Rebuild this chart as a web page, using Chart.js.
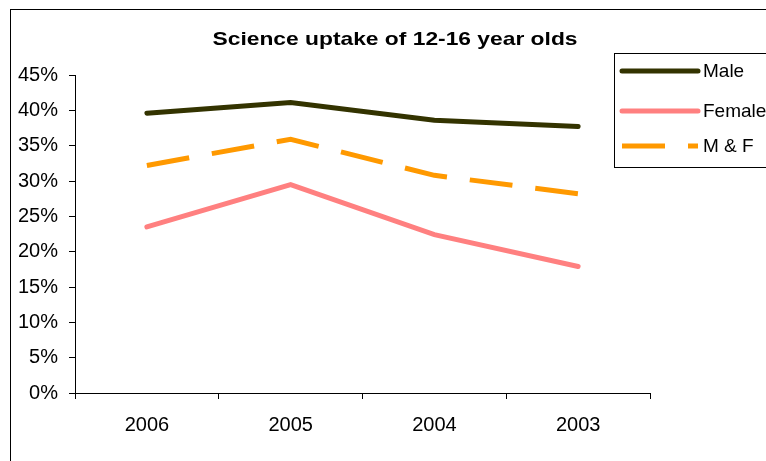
<!DOCTYPE html>
<html>
<head>
<meta charset="utf-8">
<script src="https://cdn.jsdelivr.net/npm/chart.js@4/dist/chart.umd.min.js"></script>
<style>
  html, body { margin: 0; padding: 0; background: #fff; }
  #wrap { width: 766px; height: 461px; position: relative; }
</style>
</head>
<body>
<div id="wrap"><canvas id="line-chart" width="766" height="461"></canvas></div>
<script>
const years = ["2006", "2005", "2004", "2003"];
const male = [39.6, 41.1, 38.6, 37.7];
const female = [23.5, 29.5, 22.4, 17.9];
const maleFemale = [32.2, 35.9, 30.8, 28.2];
const yTicks = [0, 5, 10, 15, 20, 25, 30, 35, 40, 45];

const FONT = "'Liberation Sans', Arial, sans-serif";

// outer frame, title and the boxed legend drawn on the canvas
const framePlugin = {
  id: "frame",
  afterDraw(chart) {
    const ctx = chart.ctx;
    ctx.save();
    ctx.strokeStyle = "#000";
    ctx.lineWidth = 1;
    ctx.strokeRect(10.5, 9.5, 800, 500);

    // title, a little wider than the plain font
    ctx.save();
    ctx.translate(395, 40);
    ctx.scale(1.2, 1);
    ctx.fillStyle = "#000";
    ctx.font = "bold 19px " + FONT;
    ctx.textAlign = "center";
    ctx.textBaseline = "middle";
    ctx.fillText("Science uptake of 12-16 year olds", 0, 0);
    ctx.restore();

    // legend box
    ctx.fillStyle = "#fff";
    ctx.fillRect(614, 53, 200, 114);
    ctx.strokeStyle = "#000";
    ctx.strokeRect(614.5, 53.5, 200, 114);
    const rows = [71, 111, 146];
    chart.data.datasets.forEach((ds, i) => {
      const y = rows[i];
      ctx.beginPath();
      ctx.strokeStyle = ds.borderColor;
      ctx.lineWidth = ds.borderWidth;
      if (ds.borderDash) {
        ctx.lineCap = "butt";
        ctx.setLineDash([43, 23]);
      } else {
        ctx.lineCap = "round";
        ctx.setLineDash([]);
      }
      ctx.moveTo(622, y);
      ctx.lineTo(698, y);
      ctx.stroke();
      ctx.setLineDash([]);
      ctx.fillStyle = "#000";
      ctx.font = "19px " + FONT;
      ctx.textAlign = "left";
      ctx.textBaseline = "middle";
      ctx.fillText(ds.label, 703, y + 1);
    });
    ctx.restore();
  }
};

const data = {
  labels: years,
  datasets: [
    {
      label: "Male",
      data: male,
      borderColor: "#333300",
      borderWidth: 5,
      borderCapStyle: "round",
      pointRadius: 0,
      tension: 0,
    },
    {
      label: "Female",
      data: female,
      borderColor: "#FF8080",
      borderWidth: 5,
      borderCapStyle: "round",
      pointRadius: 0,
      tension: 0,
    },
    {
      label: "M & F",
      data: maleFemale,
      borderColor: "#FF9900",
      borderWidth: 5,
      borderDash: [43, 23],
      pointRadius: 0,
      tension: 0,
    },
  ],
};

const config = {
  type: "line",
  data: data,
  options: {
    responsive: false,
    animation: false,
    layout: { padding: { top: 75, right: 116, bottom: 0, left: 0 } },
    plugins: {
      legend: { display: false },
      title: { display: false },
      tooltip: { enabled: false },
    },
    scales: {
      x: {
        offset: true,
        grid: {
          offset: true,
          drawOnChartArea: false,
          drawTicks: true,
          tickLength: 6,
          color: "#000",
        },
        border: { color: "#000", width: 1 },
        ticks: {
          color: "#000",
          font: { family: FONT, size: 20 },
          padding: 14,
          maxRotation: 0,
        },
        afterFit(scale) { scale.height = 68; },
      },
      y: {
        min: 0,
        max: 45,
        afterBuildTicks(scale) {
          scale.ticks = yTicks.map(v => ({ value: v }));
        },
        grid: {
          drawOnChartArea: false,
          drawTicks: true,
          tickLength: 6,
          color: "#000",
        },
        border: { color: "#000", width: 1 },
        ticks: {
          color: "#000",
          font: { family: FONT, size: 20 },
          padding: 11,
          callback: v => v + "%",
        },
        afterFit(scale) { scale.width = 75; },
      },
    },
  },
  plugins: [framePlugin],
};

var ctx = document.getElementById("line-chart").getContext("2d");
var myChart = new Chart(ctx, config);
</script>
</body>
</html>
